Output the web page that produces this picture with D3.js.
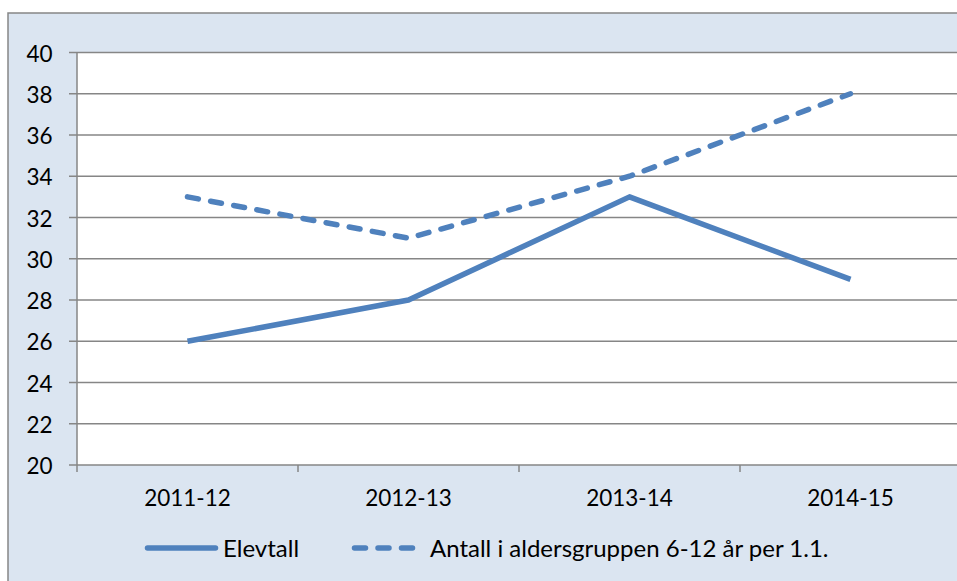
<!DOCTYPE html>
<html>
<head>
<meta charset="utf-8">
<script src="https://cdn.jsdelivr.net/npm/d3@7"></script>
<style>
  body { margin: 0; background: #fff; }
  svg { display: block; font-family: Lato, "Open Sans", sans-serif; }
</style>
</head>
<body>
<div id="chart"></div>
<script>
const categories = ['2011-12', '2012-13', '2013-14', '2014-15'];
const elevtall = [26, 28, 33, 29];
const antall = [33, 31, 34, 38];
const seriesNames = ['Elevtall', 'Antall i aldersgruppen 6-12 år per 1.1.'];
const yTicks = [20, 22, 24, 26, 28, 30, 32, 34, 36, 38, 40];

const width = 957;
const height = 581;
const plot = { left: 77, top: 52.5, right: 961, bottom: 465 };
const blue = '#4f81bd';
const grey = '#868686';

const svg = d3.select('#chart').append('svg')
    .attr('width', width)
    .attr('height', height);

// chart area background
svg.append('rect')
    .attr('x', 8).attr('y', 13)
    .attr('width', width + 10).attr('height', height + 10)
    .attr('fill', '#dbe5f1')
    .attr('stroke', grey).attr('stroke-width', 1.5);

svg.append('rect')
    .attr('x', plot.left).attr('y', plot.top)
    .attr('width', plot.right - plot.left).attr('height', plot.bottom - plot.top)
    .attr('fill', '#fff');

const x = d3.scaleBand().domain(categories).range([plot.left, plot.right]);
const y = d3.scaleLinear().domain([20, 40]).range([plot.bottom, plot.top]);

// gridlines
svg.append('g')
    .selectAll('line')
    .data(yTicks)
    .enter().append('line')
    .attr('x1', plot.left - 8).attr('x2', plot.right)
    .attr('y1', d => y(d)).attr('y2', d => y(d))
    .attr('stroke', grey).attr('stroke-width', 1.5);

// y axis line
svg.append('line')
    .attr('x1', plot.left).attr('x2', plot.left)
    .attr('y1', plot.top).attr('y2', plot.bottom + 7)
    .attr('stroke', grey).attr('stroke-width', 1.5);

// x category tick marks
svg.append('g')
    .selectAll('line')
    .data(categories)
    .enter().append('line')
    .attr('x1', d => x(d) + x.step())
    .attr('x2', d => x(d) + x.step())
    .attr('y1', plot.bottom).attr('y2', plot.bottom + 7)
    .attr('stroke', grey).attr('stroke-width', 1.5);

svg.append('g')
    .selectAll('text')
    .data(yTicks)
    .enter().append('text')
    .attr('x', 52.5)
    .attr('y', d => y(d) + 1)
    .attr('dy', '0.36em')
    .attr('text-anchor', 'end')
    .attr('font-size', 22.5)
    .attr('fill', '#000')
    .text(d => d);

svg.append('g')
    .selectAll('text')
    .data(categories)
    .enter().append('text')
    .attr('x', d => x(d) + x.bandwidth() / 2)
    .attr('y', 498)
    .attr('dy', '0.36em')
    .attr('text-anchor', 'middle')
    .attr('font-size', 22.5)
    .attr('fill', '#000')
    .text(d => d);

const line = d3.line()
    .x((d, i) => x(categories[i]) + x.bandwidth() / 2)
    .y(d => y(d));

svg.append('path')
    .attr('d', line(elevtall))
    .attr('fill', 'none')
    .attr('stroke', blue)
    .attr('stroke-width', 5.5)
    .attr('stroke-linejoin', 'round');

svg.append('path')
    .attr('d', line(antall))
    .attr('fill', 'none')
    .attr('stroke', blue)
    .attr('stroke-width', 5.5)
    .attr('stroke-dasharray', '11,12.5')
    .attr('stroke-linecap', 'round');

// legend
const legend = svg.append('g').attr('transform', 'translate(0,548)');
legend.append('line')
    .attr('x1', 147.5).attr('x2', 215.5).attr('y1', 0).attr('y2', 0)
    .attr('stroke', blue).attr('stroke-width', 5.5).attr('stroke-linecap', 'round');
legend.append('text')
    .attr('x', 223).attr('dy', '0.36em')
    .attr('font-size', 24).text(seriesNames[0]);
legend.append('line')
    .attr('x1', 354.5).attr('x2', 413).attr('y1', 0).attr('y2', 0)
    .attr('stroke', blue).attr('stroke-width', 5.5)
    .attr('stroke-dasharray', '11,12.5').attr('stroke-linecap', 'round');
legend.append('text')
    .attr('x', 430).attr('dy', '0.36em')
    .attr('font-size', 24).text(seriesNames[1]);
</script>
</body>
</html>
